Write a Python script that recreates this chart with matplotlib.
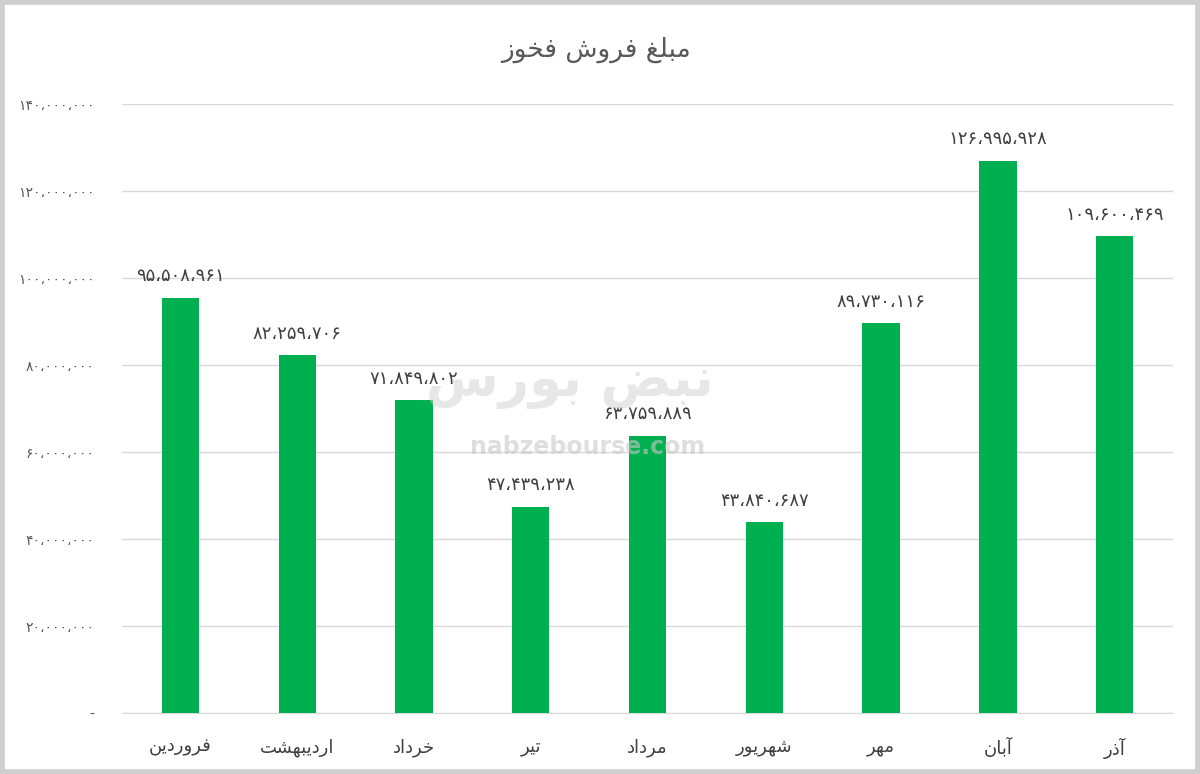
import matplotlib
matplotlib.use("Agg")
import matplotlib.pyplot as plt
from matplotlib.patches import Rectangle

# داده‌ها (ترتیب نمایش از چپ به راست)
months = ["فروردین", "اردیبهشت", "خرداد", "تیر", "مرداد", "شهریور", "مهر", "آبان", "آذر"]
sales = [95508961, 82259706, 71849802, 47439238, 63759889, 43840687, 89730116, 126995928, 109600469]
yticks = [0, 20000000, 40000000, 60000000, 80000000, 100000000, 120000000, 140000000]
title = "مبلغ فروش فخوز"

# شکل‌دهی ساده حروف فارسی (matplotlib خودش این کار را نمی‌کند)
# هر حرف: (تنها، پایانی، آغازی، میانی) ؛ None یعنی به بعدی نمی‌چسبد
FORMS = {
    "ا": ("\uFE8D", "\uFE8E", None, None),
    "آ": ("\uFE81", "\uFE82", None, None),
    "ب": ("\uFE8F", "\uFE90", "\uFE91", "\uFE92"),
    "ت": ("\uFE95", "\uFE96", "\uFE97", "\uFE98"),
    "خ": ("\uFEA5", "\uFEA6", "\uFEA7", "\uFEA8"),
    "د": ("\uFEA9", "\uFEAA", None, None),
    "ذ": ("\uFEAB", "\uFEAC", None, None),
    "ر": ("\uFEAD", "\uFEAE", None, None),
    "ز": ("\uFEAF", "\uFEB0", None, None),
    "س": ("\uFEB1", "\uFEB2", "\uFEB3", "\uFEB4"),
    "ش": ("\uFEB5", "\uFEB6", "\uFEB7", "\uFEB8"),
    "ض": ("\uFEBD", "\uFEBE", "\uFEBF", "\uFEC0"),
    "غ": ("\uFECD", "\uFECE", "\uFECF", "\uFED0"),
    "ف": ("\uFED1", "\uFED2", "\uFED3", "\uFED4"),
    "ل": ("\uFEDD", "\uFEDE", "\uFEDF", "\uFEE0"),
    "م": ("\uFEE1", "\uFEE2", "\uFEE3", "\uFEE4"),
    "ن": ("\uFEE5", "\uFEE6", "\uFEE7", "\uFEE8"),
    "ه": ("\uFEE9", "\uFEEA", "\uFEEB", "\uFEEC"),
    "و": ("\uFEED", "\uFEEE", None, None),
    "ی": ("\uFBFC", "\uFBFD", "\uFEF3", "\uFEF4"),
}


def fa(text):
    out = []
    for i, ch in enumerate(text):
        if ch not in FORMS:
            out.append(ch)
            continue
        prev = text[i - 1] if i > 0 else None
        nxt = text[i + 1] if i + 1 < len(text) else None
        join_prev = prev in FORMS and FORMS[prev][2] is not None
        join_next = FORMS[ch][2] is not None and nxt in FORMS
        iso, fin, ini, med = FORMS[ch]
        if join_prev and join_next:
            out.append(med)
        elif join_prev:
            out.append(fin)
        elif join_next:
            out.append(ini)
        else:
            out.append(iso)
    return "".join(out)[::-1]


def fa_num(v):
    if v == 0:
        return "-"
    s = f"{v:,}".replace(",", "\u060C")
    return s.translate(str.maketrans("0123456789", "۰۱۲۳۴۵۶۷۸۹"))


plt.rcParams["font.family"] = ["DejaVu Sans"]

fig = plt.figure(figsize=(12, 7.74), dpi=100)
ax = fig.add_axes([0.1017, 0.0788, 0.8758, 0.7868])

x = list(range(len(months)))
ax.bar(x, sales, width=0.32, color="#00B050", zorder=3)

for xi, v in zip(x, sales):
    ax.text(xi, v + 2800000, fa_num(v), ha="center", va="bottom", fontsize=13, color="#404040", zorder=4)

ax.set_xlim(-0.5, len(months) - 0.5)
ax.set_ylim(0, 140000000)
ax.set_yticks(yticks)
ax.set_yticklabels([fa_num(v) for v in yticks], fontsize=10, color="#595959")
ax.set_xticks(x)
ax.set_xticklabels([fa(m) for m in months], fontsize=13, color="#404040")
ax.tick_params(axis="both", length=0)
ax.tick_params(axis="x", pad=18)
ax.tick_params(axis="y", pad=20)
ax.grid(axis="y", color="#D9D9D9", linewidth=1, zorder=0)
for s in ["top", "right", "left"]:
    ax.spines[s].set_visible(False)
ax.spines["bottom"].set_color("#D9D9D9")

fig.text(0.497, 0.935, fa(title), ha="center", va="center", fontsize=19, color="#595959")

# واترمارک
fig.text(0.475, 0.505, fa("نبض بورس"), ha="center", va="center", fontsize=38,
         color="#D0D0D0", alpha=0.5, fontweight="bold", zorder=0)
fig.text(0.49, 0.422, "nabzebourse.com", ha="center", va="center", fontsize=17,
         color="#C8C8C8", alpha=0.6, fontweight="bold", zorder=0)

# قاب دور تصویر
fig.patches.append(Rectangle((0.002, 0.003), 0.996, 0.994, transform=fig.transFigure,
                             fill=False, edgecolor="#CFCFCF", linewidth=4))

fig.savefig("out.png", dpi=100, facecolor="white")
